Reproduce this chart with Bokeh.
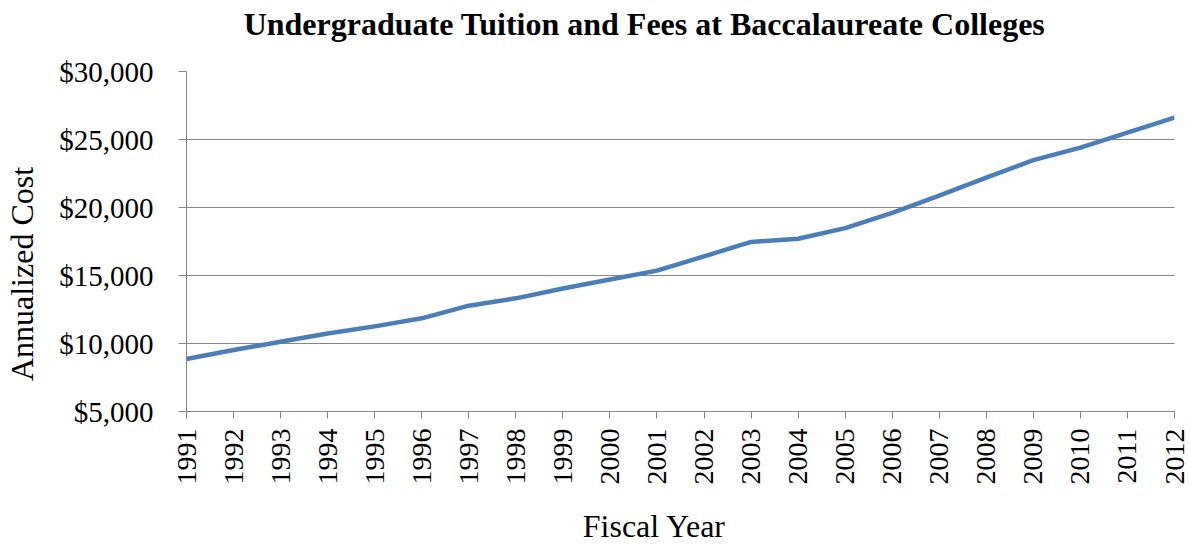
import math
from bokeh.plotting import figure
from bokeh.models import Range1d, FixedTicker, NumeralTickFormatter, Label
from bokeh.embed import file_html
from bokeh.resources import INLINE

years = list(range(1991, 2013))
tuition = [8860, 9520, 10130, 10740, 11260, 11850, 12780, 13320, 14040, 14700,
           15360, 16410, 17470, 17700, 18480, 19610, 20880, 22190, 23480, 24400,
           25500, 26610]
y_ticks = [5000, 10000, 15000, 20000, 25000, 30000]

title_text = "Undergraduate Tuition and Fees at Baccalaureate Colleges"
x_title = "Fiscal Year"
y_title = "Annualized Cost"

FONT = "Liberation Serif"
GRAY = "#868686"

p = figure(width=1190, height=546, output_backend="svg", toolbar_location=None,
           x_range=Range1d(1991, 2012), y_range=Range1d(5000, 30000),
           min_border_left=186, min_border_right=16, min_border_top=71,
           min_border_bottom=135)
p.outline_line_color = None
p.background_fill_color = "white"
p.border_fill_color = "white"

p.line(years, tuition, line_color="#4A7EBB", line_width=4.5, line_join="round")

p.xgrid.visible = False
p.ygrid.ticker = FixedTicker(ticks=y_ticks)
p.ygrid.grid_line_color = GRAY
p.ygrid.grid_line_width = 1

xa = p.xaxis[0]
xa.ticker = FixedTicker(ticks=years)
xa.major_label_orientation = math.pi / 2
xa.major_label_text_font = FONT
xa.major_label_text_font_size = "28px"
xa.major_label_text_color = "black"
xa.major_label_standoff = 10
xa.major_tick_in = 0
xa.major_tick_out = 7
xa.minor_tick_out = 0
xa.minor_tick_in = 0
xa.axis_line_color = GRAY
xa.major_tick_line_color = GRAY

ya = p.yaxis[0]
ya.ticker = FixedTicker(ticks=y_ticks)
ya.formatter = NumeralTickFormatter(format="$0,0")
ya.major_label_text_font = FONT
ya.major_label_text_font_size = "29px"
ya.major_label_text_color = "black"
ya.major_label_standoff = 25
ya.major_tick_in = 0
ya.major_tick_out = 8
ya.minor_tick_out = 0
ya.minor_tick_in = 0
ya.axis_line_color = GRAY
ya.major_tick_line_color = GRAY

# texts placed in the side panels (positions in data space, outside the frame)
p.add_layout(Label(x=2000.735, y=33456, text=title_text, text_font=FONT,
                   text_font_size="32px", text_font_style="bold",
                   text_align="center", text_baseline="alphabetic",
                   text_color="black"), "above")
p.add_layout(Label(x=2000.947, y=-3440, text=x_title, text_font=FONT,
                   text_font_size="32px", text_align="center",
                   text_baseline="alphabetic", text_color="black"), "below")
p.add_layout(Label(x=1987.499, y=15110, text=y_title, text_font=FONT,
                   text_font_size="32px", text_align="center",
                   text_baseline="alphabetic", angle=math.pi / 2,
                   text_color="black"), "left")

open("out.html", "w").write(file_html(p, INLINE))
